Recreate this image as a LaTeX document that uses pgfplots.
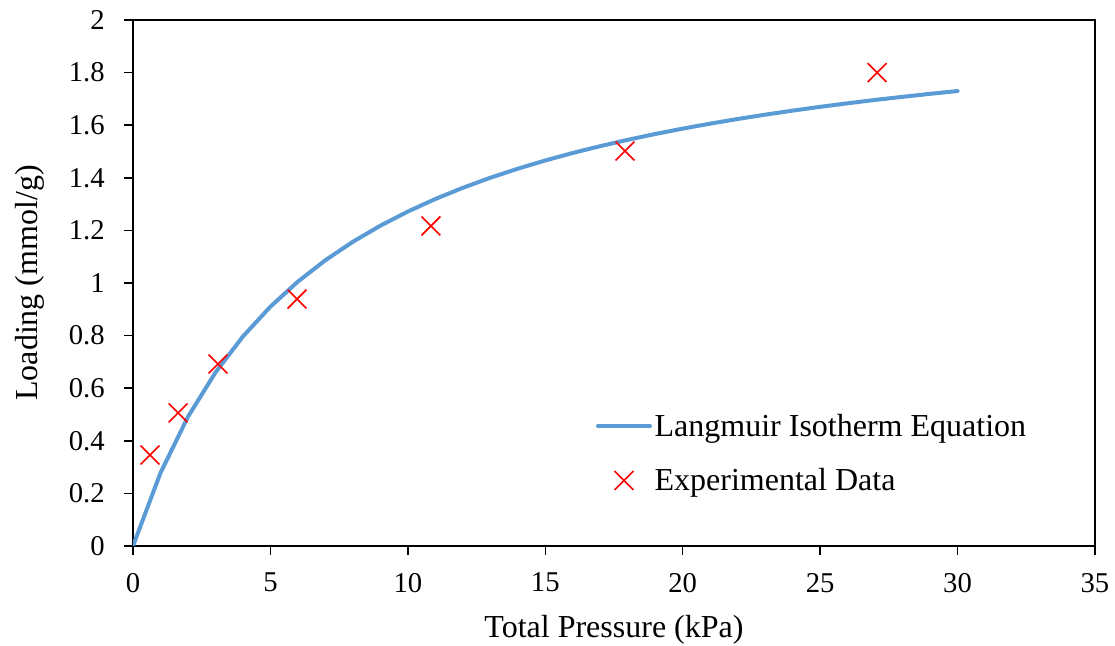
\documentclass[border=0pt]{standalone}
\usepackage{pgfplots}
\pgfplotsset{compat=1.18}
\usepackage{fontspec}
\setmainfont{LiberationSerif}[Extension=.ttf, UprightFont=*-Regular, BoldFont=*-Bold, ItalicFont=*-Italic]
\definecolor{lblue}{HTML}{5B9BD5}
\pgfplotsset{
  lineleg/.style={legend image code/.code={\draw[##1] (0pt,0pt) -- (39pt,0pt);}},
  markleg/.style={legend image code/.code={\draw[##1] plot coordinates {(19.5pt,0pt)};}},
}
\begin{document}
\begin{tikzpicture}
\useasboundingbox (-99.75pt,-75pt) rectangle (736.5pt,409.5pt);
\begin{axis}[
  at={(0pt,0pt)}, anchor=south west,
  width=721.5pt, height=394.5pt, scale only axis,
  xmin=0, xmax=35, ymin=0, ymax=2,
  xtick={0,5,10,15,20,25,30,35},
  ytick={0,0.2,0.4,0.6,0.8,1,1.2,1.4,1.6,1.8,2},
  tick align=outside, tick pos=left,
  major tick length=6.75pt,
  axis line style={black, line width=1.3pt},
  tick style={black, line width=1.1pt},
  /pgf/number format/assume math mode=true,
  ticklabel style={font=\fontsize{21.5}{25}\selectfont},
  yticklabel style={xshift=-11pt},
  xticklabel style={yshift=-10pt},
  label style={font=\fontsize{24}{28}\selectfont},
  xlabel={Total Pressure (kPa)},
  ylabel={Loading (mmol/g)},
  xlabel style={at={([yshift=-63pt]axis description cs:0.5,0)}, anchor=center},
  ylabel style={at={([xshift=-77pt]axis description cs:0,0.5)}, anchor=center},
  legend style={draw=none, fill=none, at={(0.481,0.176)}, anchor=west,
    font=\fontsize{24}{28}\selectfont, row sep=18.5pt, inner sep=0pt,
    nodes={inner sep=2pt}},
  legend cell align=left,
]
\addplot[lblue, line width=3pt, line join=round, line cap=round, lineleg] coordinates {
(0,0) (1,0.2779) (2,0.4912) (3,0.6599) (4,0.7968) (5,0.9101) (6,1.0054)
(7,1.0867) (8,1.1568) (9,1.2179) (10,1.2717) (11,1.3194) (12,1.3619)
(13,1.4001) (14,1.4346) (15,1.4658) (16,1.4944) (17,1.5204) (18,1.5444)
(19,1.5665) (20,1.5870) (21,1.6059) (22,1.6236) (23,1.6400) (24,1.6554)
(25,1.6698) (26,1.6833) (27,1.6960) (28,1.7079) (29,1.7192) (30,1.7299)
};
\addlegendentry{Langmuir Isotherm Equation}
\addplot[only marks, red, mark=x, mark size=10pt, mark options={line width=1.2pt}, markleg] coordinates {
(0.62,0.346) (1.64,0.506) (3.09,0.692) (5.97,0.939) (10.84,1.217) (17.9,1.502) (27.07,1.80)
};
\addlegendentry{Experimental Data}
\end{axis}
\end{tikzpicture}
\end{document}
